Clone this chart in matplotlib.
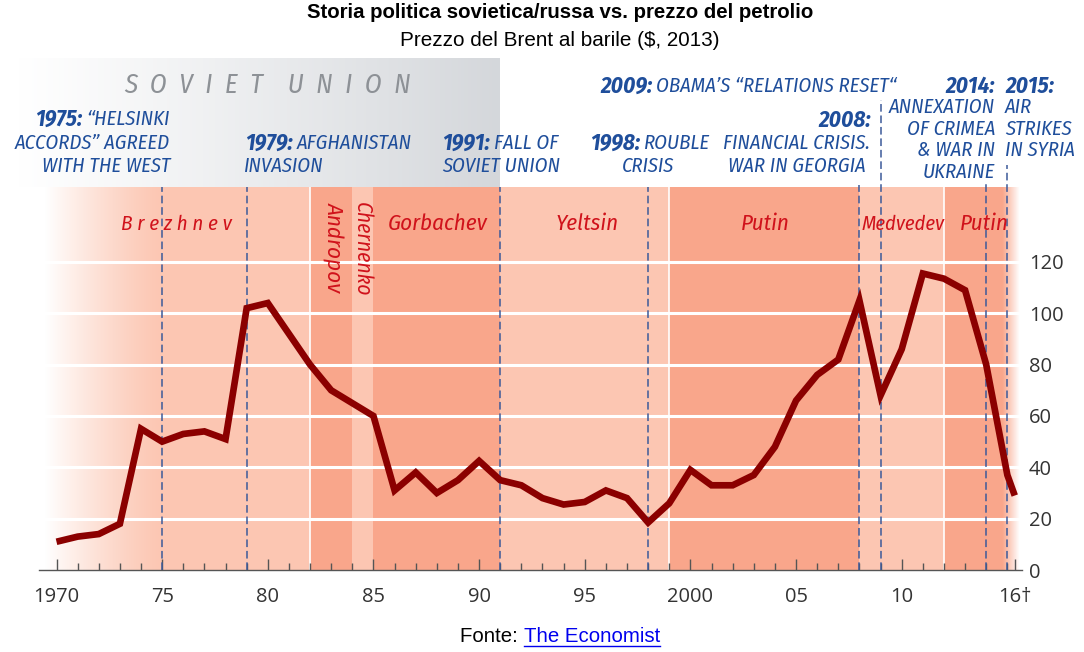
import numpy as np
import matplotlib
matplotlib.use('Agg')
import matplotlib.pyplot as plt

years = [1970, 1971, 1972, 1973, 1974, 1975, 1976, 1977, 1978, 1979, 1980, 1981,
         1982, 1983, 1984, 1985, 1986, 1987, 1988, 1989, 1990, 1991, 1992, 1993,
         1994, 1995, 1996, 1997, 1998, 1999, 2000, 2001, 2002, 2003, 2004, 2005,
         2006, 2007, 2008, 2009, 2010, 2011, 2012, 2013, 2014, 2015, 2015.35]
price = [11, 13, 14, 18, 55, 50, 53, 54, 51, 102, 104, 92,
         80, 70, 65, 60, 31, 38, 30, 35, 42.5, 35, 33, 28,
         25.5, 26.5, 31, 28, 18.5, 26, 39, 33, 33, 37, 48, 66,
         76, 82, 105, 68, 86, 115.5, 113.5, 109, 80, 37, 29]

leader_starts = [1970, 1982, 1984, 1985, 1991, 1999, 2008, 2012]
leader_ends = [1982, 1984, 1985, 1991, 1999, 2008, 2012, 2016]
leader_dark = [False, True, False, True, False, True, False, True]

event_years = [1975, 1979, 1991, 1998, 2008, 2009, 2014, 2015]
y_ticks = [0, 20, 40, 60, 80, 100, 120]
x_major = [1970, 1975, 1980, 1985, 1990, 1995, 2000, 2005, 2010, 2015.35]
x_labels = ['1970', '75', '80', '85', '90', '95', '2000', '05', '10', '16†']

COND = ['Fira Sans Condensed', 'Open Sans']
ARIAL = ['Liberation Sans']
BLUE = '#1f4e9b'
RED = '#d0121b'

W, H = 1084, 652
fig = plt.figure(figsize=(W / 100, H / 100), dpi=100, facecolor='white')

# pixel canvas for the grey block and all the loose text
bg = fig.add_axes([0, 0, 1, 1], zorder=3)
bg.set_xlim(0, W)
bg.set_ylim(H, 0)
bg.axis('off')
bg.patch.set_alpha(0)

under = fig.add_axes([0, 0, 1, 1], zorder=0)
under.axis('off')
grey = np.ones((1, 256, 4))
grey[..., :3] = np.array([0.835, 0.845, 0.86])
grey[..., 3] = np.linspace(0, 1, 256) ** 1.1
under.imshow(grey, extent=[15, 500, 187, 58], aspect='auto')
under.set_xlim(0, W)
under.set_ylim(H, 0)

# main axes, placed so the years and prices land where they do in the original
L, R, T, B = 39, 1022, 187, 570
ax = fig.add_axes([L / W, 1 - B / H, (R - L) / W, (B - T) / H], zorder=1)
ax.patch.set_alpha(0)
ax.set_xlim(1970 - (56.5 - L) / 21.13, 1970 + (R - 56.5) / 21.13)
ax.set_ylim(0, (B - T) / 2.567)

for s, e, d in zip(leader_starts, leader_ends, leader_dark):
    ax.axvspan(s if s > 1970 else ax.get_xlim()[0], e, color='#f9a68b' if d else '#fcc6b2', lw=0, zorder=0.5)
for g in y_ticks[1:]:
    ax.axhline(g, color='white', lw=2.2, zorder=1)
for s in [1982, 1999, 2012]:
    ax.axvline(s, color='white', lw=1.2, zorder=1)

# white fade at both ends
xl = ax.get_xlim()
fade = np.ones((1, 1000, 4))
px = np.linspace(L, R, 1000)
a = np.clip((165 - px) / (165 - 45), 0, 1) ** 1.3
a = np.maximum(a, np.clip((px - 1003) / (1020 - 1003), 0, 1))
fade[..., 3] = a
ax.imshow(fade, extent=[xl[0], xl[1], 0, ax.get_ylim()[1]], aspect='auto', zorder=1.5)
ax.set_xlim(xl)

ax.plot(years, price, color='#8b0000', lw=4.8, solid_joinstyle='miter', solid_capstyle='butt', zorder=4)

for sp in ['top', 'left', 'right']:
    ax.spines[sp].set_visible(False)
ax.spines['bottom'].set_color('#555555')
ax.spines['bottom'].set_linewidth(1)
ax.set_xticks(x_major)
ax.set_xticklabels(x_labels, fontfamily='Open Sans', fontsize=14.5, color='#333333')
ax.set_xticks(np.arange(1970, 2016), minor=True)
ax.tick_params(axis='x', which='major', direction='in', length=8, width=1, color='#555555', pad=12)
ax.tick_params(axis='x', which='minor', direction='in', length=5, width=1, color='#555555')
ax.yaxis.tick_right()
ax.set_yticks(y_ticks)
ax.set_yticklabels([str(v) for v in y_ticks], fontfamily='Open Sans', fontsize=14.5, color='#333333')
ax.tick_params(axis='y', length=0, pad=5)

# dashed event lines, each starts just under its caption
tops = [187, 187, 187, 187, 185, 100, 183, 165]
for yr, t in zip(event_years, tops):
    ax.plot([yr, yr], [0, (B - t) / 2.567], color='#3c5a9a', lw=1.1, ls=(0, (5, 2.5)), clip_on=False, zorder=3)

rend = fig.canvas.get_renderer()

def caption(x, y, bold, rest, ha='left', size=14.8):
    # bold year + regular text on one line, x is the left or right end
    t1 = bg.text(x, y, bold, family=COND, stretch='condensed', style='italic', weight='bold',
                 fontsize=size * 1.12, color=BLUE, va='center', ha='left')
    t2 = bg.text(x, y, rest, family=COND, stretch='condensed', style='italic', weight='normal',
                 fontsize=size, color=BLUE, va='center', ha='left')
    w1 = t1.get_window_extent(rend).width if bold else 0
    w2 = t2.get_window_extent(rend).width if rest else 0
    gap = 4 if bold and rest else 0
    start = x if ha == 'left' else x - w1 - w2 - gap
    t1.set_x(start)
    t2.set_x(start + w1 + gap)

caption(170, 119, '1975:', '“HELSINKI', 'right')
caption(170, 143, '', 'ACCORDS” AGREED', 'right')
caption(170, 166, '', 'WITH THE WEST', 'right')
caption(245, 143, '1979:', 'AFGHANISTAN')
caption(244, 166, '', 'INVASION')
caption(442, 143, '1991:', 'FALL OF')
caption(442, 166, '', 'SOVIET UNION')
caption(590, 143, '1998:', 'ROUBLE')
caption(622, 166, '', 'CRISIS')
caption(600, 86, '2009:', 'OBAMA’S “RELATIONS RESET“')
caption(871, 120, '2008:', '', 'right')
caption(870, 143, '', 'FINANCIAL CRISIS.', 'right')
caption(866, 166, '', 'WAR IN GEORGIA', 'right')
caption(995, 86, '2014:', '', 'right')
caption(995, 107, '', 'ANNEXATION', 'right')
caption(995, 129, '', 'OF CRIMEA', 'right')
caption(995, 150, '', '& WAR IN', 'right')
caption(995, 172, '', 'UKRAINE', 'right')
caption(1005, 86, '2015:', '')
caption(1005, 107, '', 'AIR')
caption(1005, 129, '', 'STRIKES')
caption(1005, 150, '', 'IN SYRIA')

bg.text(268, 85, 'S  O  V  I  E  T    U  N  I  O  N', family=COND, stretch='condensed', style='italic',
        weight='normal', fontsize=19.5, color='#8d9196', ha='center', va='center')

def leader(x, y, s, rot=0, size=16.5):
    bg.text(x, y, s, family=COND, stretch='condensed', style='italic', weight='normal', fontsize=size,
            color=RED, ha='center', va='center', rotation=rot)

leader(176, 224, 'B r e z h n e v', size=15)
leader(438, 224, 'Gorbachev')
leader(587, 224, 'Yeltsin')
leader(765, 224, 'Putin')
leader(903, 224, 'Medvedev', size=14.7)
leader(984, 224, 'Putin')
leader(333, 247, 'Andropov', -90)
leader(362, 249, 'Chernenko', -90, size=15.5)

bg.text(560, 13, 'Storia politica sovietica/russa vs. prezzo del petrolio', family=ARIAL,
        weight='bold', fontsize=14.7, ha='center', va='center', color='black')
bg.text(560, 41, 'Prezzo del Brent al barile ($, 2013)', family=ARIAL, fontsize=14.9,
        ha='center', va='center', color='black')

bg.text(460, 636, 'Fonte: ', family=ARIAL, fontsize=14.7, va='center', color='black')
t2 = bg.text(524, 636, 'The Economist', family=ARIAL, fontsize=14.7, va='center', color='#0000ee')
x2 = t2.get_window_extent(rend).x1
bg.plot([524, x2], [646, 646], color='#0000ee', lw=1)
bg.set_xlim(0, W)
bg.set_ylim(H, 0)

fig.savefig('out.png', dpi=100)
